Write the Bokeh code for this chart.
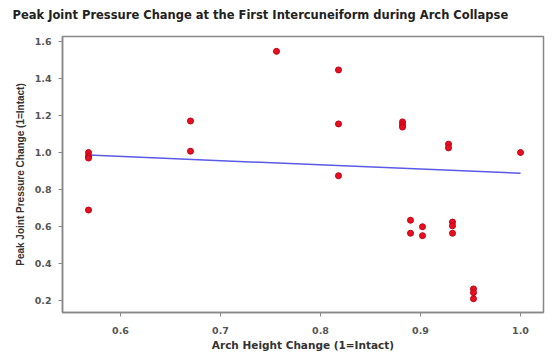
from bokeh.plotting import figure
from bokeh.models import Range1d, FixedTicker, NumeralTickFormatter, Title
from bokeh.embed import file_html
from bokeh.resources import INLINE

# Data
arch_height = [0.568, 0.568, 0.568, 0.568,
               0.670, 0.670,
               0.756,
               0.818, 0.818, 0.818,
               0.882, 0.882, 0.882,
               0.890, 0.890,
               0.902, 0.902,
               0.928, 0.928,
               0.932, 0.932, 0.932,
               0.953, 0.953, 0.953,
               1.000]
pressure = [1.00, 0.98, 0.97, 0.69,
            1.17, 1.007,
            1.545,
            1.445, 1.154, 0.875,
            1.165, 1.15, 1.137,
            0.635, 0.565,
            0.600, 0.552,
            1.045, 1.025,
            0.625, 0.605, 0.565,
            0.265, 0.245, 0.212,
            1.00]
fit_x = [0.568, 1.000]
fit_y = [0.986, 0.888]
x_ticks = [0.6, 0.7, 0.8, 0.9, 1.0]
y_ticks = [0.2, 0.4, 0.6, 0.8, 1.0, 1.2, 1.4, 1.6]
title_text = "Peak Joint Pressure Change at the First Intercuneiform during Arch Collapse"

WIDE = "DejaVu Sans"
NARROW = "Liberation Sans"

p = figure(width=549, height=353, output_backend="svg", toolbar_location=None,
           x_range=Range1d(0.542, 1.023), y_range=Range1d(0.138, 1.625),
           min_border_left=62, min_border_right=6, min_border_top=36, min_border_bottom=36)

# real title (outer) and a blank spacer title between it and the frame
p.title.text = title_text
p.title.align = "left"
p.title.offset = -50
p.title.standoff = 0
p.title.text_font = WIDE
p.title.text_font_size = "11.5px"
p.title.text_font_style = "bold"
p.title.text_color = "#222222"
p.add_layout(Title(text=" ", text_font_size="10px", standoff=2), "above")

p.grid.visible = False
p.outline_line_color = "#888888"
p.outline_line_width = 1.5
p.background_fill_color = "white"
p.border_fill_color = "white"

for ax in (p.xaxis[0], p.yaxis[0]):
    ax.axis_line_color = "#888888"
    ax.axis_line_width = 1.5
    ax.major_tick_line_color = "#888888"
    ax.major_tick_out = 4
    ax.major_tick_in = 0
    ax.minor_tick_line_color = None
    ax.major_label_text_font = WIDE
    ax.major_label_text_font_size = "9.5px"
    ax.major_label_text_font_style = "bold"
    ax.major_label_text_color = "#555555"
    ax.axis_label_text_font_style = "bold"
    ax.axis_label_text_color = "#333333"
    ax.formatter = NumeralTickFormatter(format="0.0")

p.xaxis.axis_label_text_font = WIDE
p.xaxis.axis_label_text_font_size = "10.5px"
p.yaxis.axis_label_text_font = NARROW
p.yaxis.axis_label_text_font_size = "10px"

p.xaxis.ticker = FixedTicker(ticks=x_ticks)
p.yaxis.ticker = FixedTicker(ticks=y_ticks)
p.xaxis.axis_label = "Arch Height Change (1=Intact)"
p.yaxis.axis_label = "Peak Joint Pressure Change (1=Intact)"
p.xaxis.major_label_standoff = 10
p.xaxis.axis_label_standoff = 2
p.yaxis.major_label_standoff = 7
p.yaxis.axis_label_standoff = 6

p.line(fit_x, fit_y, line_color="#5a5ae6", line_width=1.5)
p.scatter(arch_height, pressure, size=6, fill_color="#e8101e", line_color="#c00018", line_width=1)

open("out.html", "w").write(file_html(p, INLINE))
